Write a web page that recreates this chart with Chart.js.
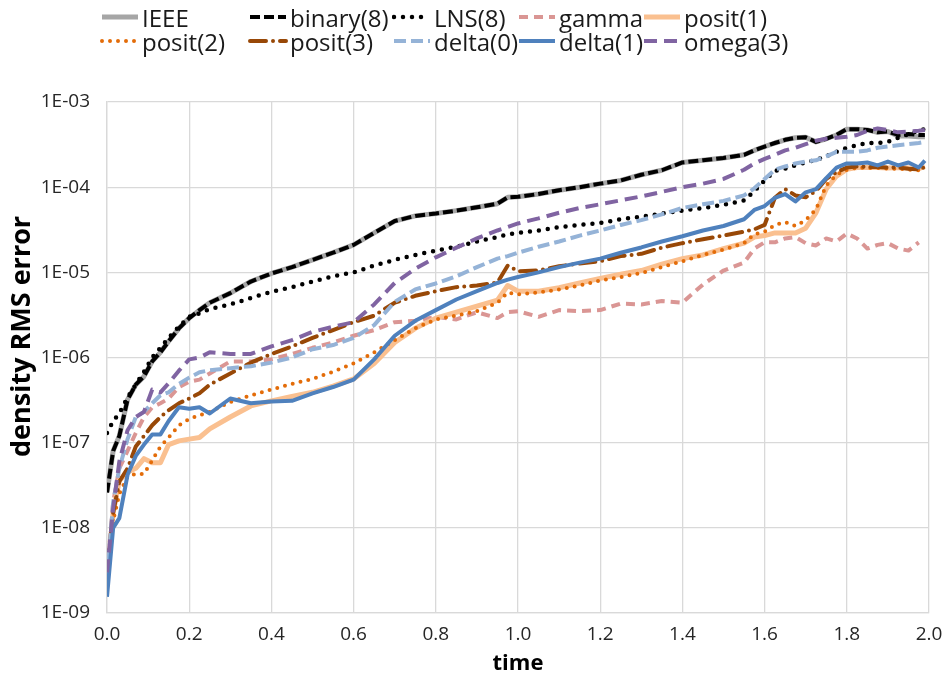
<!DOCTYPE html>
<html>
<head>
<meta charset="utf-8">
<script src="https://cdn.jsdelivr.net/npm/chart.js@4.4.1/dist/chart.umd.min.js"></script>
<style>
  html, body { margin: 0; padding: 0; background: #fff; }
  #wrap { position: relative; width: 942px; height: 682px; }
  #legend {
    position: absolute; left: 100px; top: 5px;
    display: grid; grid-template-columns: 148px 144px 125px 125px auto;
    font-family: 'Open Sans', sans-serif; font-size: 24px; color: #1a1a1a;
  }
  .item { display: flex; align-items: center; height: 24px; white-space: nowrap; }
  .item svg { width: 40px; height: 10px; margin-right: 2px; flex: none; }
</style>
</head>
<body>
<div id="wrap">
  <canvas id="chart" width="942" height="682"></canvas>
  <div id="legend"></div>
</div>
<script>
const times = [0, 0.015, 0.03, 0.05, 0.07, 0.09, 0.11, 0.13, 0.15, 0.175, 0.2, 0.225, 0.25, 0.3, 0.35, 0.4, 0.45, 0.5, 0.55, 0.6,
  0.65, 0.7, 0.75, 0.8, 0.85, 0.9, 0.95, 0.975, 1.0, 1.05, 1.1, 1.15, 1.2, 1.25, 1.3, 1.35, 1.4, 1.45, 1.5, 1.55,
  1.575, 1.6, 1.625, 1.65, 1.675, 1.7, 1.725, 1.75, 1.775, 1.8, 1.825, 1.85, 1.875, 1.9, 1.925, 1.95, 1.975, 1.99];

const binary8 = [2.6e-8, 8e-8, 1.2e-7, 3.2e-7, 4.8e-7, 6e-7, 9e-7, 1.15e-6, 1.55e-6, 2.2e-6, 2.9e-6, 3.6e-6, 4.4e-6, 5.7e-6, 7.8e-6, 9.7e-6, 1.15e-5, 1.4e-5, 1.7e-5, 2.1e-5,
  2.9e-5, 4e-5, 4.6e-5, 4.9e-5, 5.3e-5, 5.8e-5, 6.4e-5, 7.6e-5, 7.7e-5, 8.3e-5, 9.2e-5, 1e-4, 1.1e-4, 1.2e-4, 1.4e-4, 1.58e-4, 1.95e-4, 2.07e-4, 2.2e-4, 2.4e-4,
  2.7e-4, 3e-4, 3.3e-4, 3.6e-4, 3.8e-4, 3.85e-4, 3.4e-4, 3.7e-4, 4.1e-4, 4.8e-4, 4.8e-4, 4.7e-4, 4.4e-4, 4.5e-4, 4.1e-4, 4.2e-4, 4.1e-4, 4.1e-4];

const ieee = [2.6e-8, 8e-8, 1.2e-7, 3.2e-7, 4.8e-7, 6e-7, 9e-7, 1.15e-6, 1.55e-6, 2.2e-6, 2.9e-6, 3.6e-6, 4.4e-6, 5.7e-6, 7.8e-6, 9.7e-6, 1.15e-5, 1.4e-5, 1.7e-5, 2.1e-5,
  2.9e-5, 4e-5, 4.6e-5, 4.9e-5, 5.3e-5, 5.8e-5, 6.4e-5, 7.6e-5, 7.7e-5, 8.3e-5, 9.2e-5, 1e-4, 1.1e-4, 1.2e-4, 1.4e-4, 1.58e-4, 1.95e-4, 2.07e-4, 2.2e-4, 2.4e-4,
  2.7e-4, 3e-4, 3.3e-4, 3.6e-4, 3.8e-4, 3.85e-4, 3.4e-4, 3.7e-4, 4.1e-4, 4.8e-4, 4.8e-4, 4.7e-4, 4.4e-4, 4.5e-4, 4e-4, 4e-4, 3.9e-4, 3.9e-4];

const lns8 = [1.3e-7, 1.8e-7, 2.2e-7, 3.4e-7, 4.8e-7, 6.8e-7, 1e-6, 1.3e-6, 1.7e-6, 2.3e-6, 3e-6, 3.3e-6, 3.7e-6, 4.2e-6, 5e-6, 5.9e-6, 6.7e-6, 7.8e-6, 9e-6, 1e-5,
  1.2e-5, 1.4e-5, 1.6e-5, 1.8e-5, 2e-5, 2.3e-5, 2.6e-5, 2.8e-5, 2.9e-5, 3.1e-5, 3.4e-5, 3.6e-5, 3.8e-5, 4.2e-5, 4.5e-5, 4.9e-5, 5.3e-5, 5.7e-5, 6.2e-5, 7e-5,
  9e-5, 1.2e-4, 1.55e-4, 1.65e-4, 1.8e-4, 1.95e-4, 2.1e-4, 2.3e-4, 2.6e-4, 2.9e-4, 3.1e-4, 3.3e-4, 3.3e-4, 3.4e-4, 3.8e-4, 4.2e-4, 4.6e-4, 4.8e-4];

const gamma = [3e-9, 2e-8, 5e-8, 8e-8, 1.3e-7, 2e-7, 2.6e-7, 2.9e-7, 3.3e-7, 4.5e-7, 5.2e-7, 5.5e-7, 6.5e-7, 9e-7, 9e-7, 9.5e-7, 1.1e-6, 1.3e-6, 1.5e-6, 1.8e-6,
  2.1e-6, 2.6e-6, 2.7e-6, 3e-6, 2.8e-6, 3.4e-6, 2.9e-6, 3.4e-6, 3.5e-6, 3e-6, 3.6e-6, 3.5e-6, 3.6e-6, 4.3e-6, 4.2e-6, 4.6e-6, 4.4e-6, 7.2e-6, 1.05e-5, 1.3e-5,
  1.9e-5, 2.25e-5, 2.25e-5, 2.5e-5, 2.6e-5, 2.2e-5, 2.07e-5, 2.5e-5, 2.3e-5, 2.85e-5, 2.5e-5, 1.9e-5, 2.1e-5, 2.2e-5, 1.9e-5, 1.8e-5, 2.25e-5, null];

const posit1 = [2.5e-9, 1.5e-8, 3.6e-8, 4.5e-8, 5e-8, 6.5e-8, 5.8e-8, 5.8e-8, 9.5e-8, 1.05e-7, 1.1e-7, 1.15e-7, 1.45e-7, 2e-7, 2.7e-7, 3.1e-7, 3.5e-7, 3.9e-7, 4.6e-7, 5.6e-7,
  8.5e-7, 1.5e-6, 2.2e-6, 2.9e-6, 3.4e-6, 4e-6, 4.7e-6, 7e-6, 6e-6, 6e-6, 6.6e-6, 7.5e-6, 8.5e-6, 9.5e-6, 1.05e-5, 1.25e-5, 1.45e-5, 1.6e-5, 1.9e-5, 2.2e-5,
  2.6e-5, 2.7e-5, 2.9e-5, 2.9e-5, 2.9e-5, 3.3e-5, 5e-5, 9.5e-5, 1.35e-4, 1.62e-4, 1.7e-4, 1.7e-4, 1.7e-4, 1.68e-4, 1.7e-4, 1.68e-4, 1.65e-4, 1.75e-4];

const posit2 = [2.5e-9, 1.2e-8, 2.5e-8, 4e-8, 4.3e-8, 4.3e-8, 6.2e-8, 9e-8, 1.15e-7, 1.6e-7, 1.9e-7, 2.1e-7, 2.3e-7, 3e-7, 3.6e-7, 4.2e-7, 4.9e-7, 5.6e-7, 6.8e-7, 8.5e-7,
  1.15e-6, 1.6e-6, 2.2e-6, 2.8e-6, 3.1e-6, 3.5e-6, 4.4e-6, 5.8e-6, 5.5e-6, 5.8e-6, 6.3e-6, 7e-6, 8e-6, 8.8e-6, 9.8e-6, 1.15e-5, 1.35e-5, 1.6e-5, 1.85e-5, 2.2e-5,
  2.8e-5, 3e-5, 3.6e-5, 3.9e-5, 3.5e-5, 4.1e-5, 5.5e-5, 1.05e-4, 1.4e-4, 1.6e-4, 1.7e-4, 1.68e-4, 1.68e-4, 1.65e-4, 1.65e-4, 1.6e-4, 1.58e-4, 1.7e-4];

const posit3 = [3e-9, 1.5e-8, 3.5e-8, 5e-8, 9e-8, 1.2e-7, 1.6e-7, 2e-7, 2.4e-7, 2.9e-7, 3.3e-7, 3.8e-7, 4.8e-7, 6.5e-7, 8.7e-7, 1.1e-6, 1.35e-6, 1.7e-6, 2.1e-6, 2.6e-6,
  3.1e-6, 4.4e-6, 5.3e-6, 6e-6, 6.7e-6, 7e-6, 7.6e-6, 1.2e-5, 1.03e-5, 1.05e-5, 1.18e-5, 1.27e-5, 1.35e-5, 1.55e-5, 1.65e-5, 1.95e-5, 2.2e-5, 2.45e-5, 2.7e-5, 3e-5,
  3.2e-5, 3.6e-5, 7.5e-5, 9.5e-5, 8e-5, 7.6e-5, 9e-5, 1.25e-4, 1.5e-4, 1.7e-4, 1.75e-4, 1.72e-4, 1.72e-4, 1.7e-4, 1.7e-4, 1.65e-4, 1.62e-4, 1.72e-4];

const delta0 = [2.5e-9, 2e-8, 5e-8, 1.1e-7, 2e-7, 2.3e-7, 2.9e-7, 3.6e-7, 3.9e-7, 4.9e-7, 5.8e-7, 6.7e-7, 7.1e-7, 7.5e-7, 7.9e-7, 8.7e-7, 1e-6, 1.25e-6, 1.4e-6, 1.7e-6,
  2.4e-6, 4.5e-6, 6.3e-6, 7.4e-6, 9e-6, 1.15e-5, 1.45e-5, 1.55e-5, 1.7e-5, 2e-5, 2.3e-5, 2.7e-5, 3.1e-5, 3.6e-5, 4.1e-5, 4.8e-5, 5.7e-5, 6.3e-5, 6.9e-5, 8e-5,
  9.7e-5, 1.25e-4, 1.6e-4, 1.75e-4, 1.9e-4, 2e-4, 2.07e-4, 2.3e-4, 2.6e-4, 2.6e-4, 2.6e-4, 2.7e-4, 2.9e-4, 3e-4, 3.1e-4, 3.2e-4, 3.3e-4, 3.4e-4];

const delta1 = [1.55e-9, 1e-8, 1.3e-8, 4.2e-8, 7e-8, 9.5e-8, 1.25e-7, 1.25e-7, 1.8e-7, 2.6e-7, 2.5e-7, 2.6e-7, 2.2e-7, 3.3e-7, 2.9e-7, 3.05e-7, 3.1e-7, 3.8e-7, 4.5e-7, 5.5e-7,
  9.5e-7, 1.8e-6, 2.7e-6, 3.6e-6, 4.8e-6, 6e-6, 7.5e-6, 8.2e-6, 8.8e-6, 1e-5, 1.15e-5, 1.3e-5, 1.45e-5, 1.7e-5, 1.96e-5, 2.3e-5, 2.65e-5, 3.1e-5, 3.5e-5, 4.2e-5,
  5.4e-5, 6e-5, 7.5e-5, 8.3e-5, 6.8e-5, 8.7e-5, 9.5e-5, 1.28e-4, 1.7e-4, 1.9e-4, 1.9e-4, 1.95e-4, 1.8e-4, 2e-4, 1.8e-4, 1.95e-4, 1.7e-4, 2.05e-4];

const omega3 = [3e-9, 1.7e-8, 6e-8, 1.4e-7, 2e-7, 2.3e-7, 4.2e-7, 3.9e-7, 5e-7, 7e-7, 9.5e-7, 1e-6, 1.15e-6, 1.1e-6, 1.1e-6, 1.35e-6, 1.6e-6, 2e-6, 2.3e-6, 2.6e-6,
  4.2e-6, 7.5e-6, 1.1e-5, 1.5e-5, 1.95e-5, 2.5e-5, 3.1e-5, 3.4e-5, 3.75e-5, 4.3e-5, 5e-5, 5.7e-5, 6.3e-5, 7e-5, 7.8e-5, 8.8e-5, 1e-4, 1.1e-4, 1.25e-4, 1.6e-4,
  1.9e-4, 2.15e-4, 2.4e-4, 2.7e-4, 2.9e-4, 3.2e-4, 3.5e-4, 3.7e-4, 3.8e-4, 3.9e-4, 4.1e-4, 4.6e-4, 4.9e-4, 4.7e-4, 4.4e-4, 4.5e-4, 4.6e-4, 4.7e-4];

const yTickValues = [1e-9, 1e-8, 1e-7, 1e-6, 1e-5, 1e-4, 1e-3];
const yTickLabels = ['1E-09', '1E-08', '1E-07', '1E-06', '1E-05', '1E-04', '1E-03'];

const series = [
  { label: 'IEEE',      values: ieee,    color: '#A6A6A6', width: 5,   dash: [],            cap: 'butt' },
  { label: 'binary(8)', values: binary8, color: '#000000', width: 4,   dash: [10, 4],       cap: 'butt' },
  { label: 'LNS(8)',    values: lns8,    color: '#000000', width: 4.5, dash: [0, 9],        cap: 'round' },
  { label: 'gamma',     values: gamma,   color: '#DA9694', width: 4,   dash: [9, 6],        cap: 'butt' },
  { label: 'posit(1)',  values: posit1,  color: '#FAC090', width: 5,   dash: [],            cap: 'butt' },
  { label: 'posit(2)',  values: posit2,  color: '#E36C09', width: 4,   dash: [0, 8],        cap: 'round' },
  { label: 'posit(3)',  values: posit3,  color: '#984807', width: 4,   dash: [16, 7, 0, 7], cap: 'round' },
  { label: 'delta(0)',  values: delta0,  color: '#95B3D7', width: 4,   dash: [12, 5],       cap: 'butt' },
  { label: 'delta(1)',  values: delta1,  color: '#4F81BD', width: 4,   dash: [],            cap: 'butt' },
  { label: 'omega(3)',  values: omega3,  color: '#8064A2', width: 4,   dash: [13, 7],       cap: 'butt' }
];

// legend as html, laid out in columns like the original
const legend = document.getElementById('legend');
series.forEach(s => {
  const item = document.createElement('div');
  item.className = 'item';
  item.innerHTML = '<svg viewBox="0 0 40 10"><line x1="2" y1="5" x2="38" y2="5" stroke="' + s.color +
    '" stroke-width="' + s.width + '" stroke-linecap="' + s.cap + '" stroke-dasharray="' +
    (s.dash.length ? s.dash.join(' ') : 'none') + '"/></svg><span>' + s.label + '</span>';
  legend.appendChild(item);
});

const datasets = series.map((s, i) => ({
  label: s.label,
  data: times.map((t, j) => ({ x: t, y: s.values[j] })),
  borderColor: s.color,
  backgroundColor: s.color,
  borderWidth: s.width,
  borderDash: s.dash,
  borderCapStyle: s.cap,
  borderJoinStyle: 'round',
  pointRadius: 0,
  tension: 0,
  fill: false,
  order: series.length - i
}));

const gridColor = '#D9D9D9';
const tickFont = { family: "'Open Sans', sans-serif", size: 19 };

new Chart(document.getElementById('chart').getContext('2d'), {
  type: 'line',
  data: { datasets },
  options: {
    responsive: false,
    animation: false,
    layout: { padding: { top: 102, left: 0, right: 0, bottom: 0 } },
    scales: {
      x: {
        type: 'linear',
        min: 0,
        max: 2,
        ticks: {
          stepSize: 0.2,
          padding: 10,
          color: '#262626',
          font: tickFont,
          maxRotation: 0,
          callback: v => Number(v).toFixed(1)
        },
        grid: { color: gridColor, lineWidth: 1.3, drawTicks: false },
        border: { color: gridColor, width: 1.3 },
        title: {
          display: true, text: 'time', color: '#000',
          font: { family: "'Open Sans', sans-serif", size: 22, weight: 'bold' },
          padding: { top: 0, bottom: 5 }
        },
        afterFit: scale => {
          scale.height = 69;
          // keep the plot right edge where the original has it
          scale.paddingLeft = 0;
          scale.paddingRight = 13;
        }
      },
      y: {
        type: 'logarithmic',
        min: 1e-9,
        max: 1e-3,
        afterBuildTicks: scale => { scale.ticks = yTickValues.map(v => ({ value: v })); },
        ticks: {
          padding: 17,
          color: '#262626',
          font: tickFont,
          callback: value => {
            const k = yTickValues.findIndex(t => Math.abs(Math.log10(t) - Math.log10(value)) < 1e-6);
            return k >= 0 ? yTickLabels[k] : '';
          }
        },
        grid: { color: gridColor, lineWidth: 1.3, drawTicks: false },
        border: { color: gridColor, width: 1.3 },
        title: {
          display: true,
          // leading spaces nudge the text up, the original sits above the axis centre
          text: '      density RMS error',
          color: '#000',
          font: { family: "'Open Sans', sans-serif", size: 27, weight: 'bold' },
          padding: { top: 6, bottom: 0 }
        },
        afterFit: scale => { scale.width = 107; }
      }
    },
    plugins: {
      legend: { display: false },
      tooltip: { enabled: false }
    }
  }
});
</script>
</body>
</html>
